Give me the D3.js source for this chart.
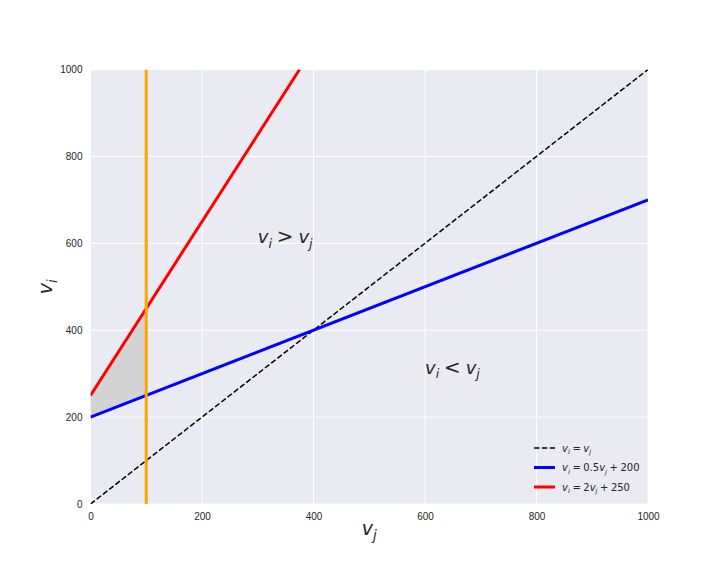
<!DOCTYPE html>
<html><head><meta charset="utf-8">
<script src="https://cdn.jsdelivr.net/npm/d3@7"></script>
<style>body{margin:0;background:#fff;}</style>
</head><body>
<svg id="c" width="720" height="576" font-family="DejaVu Sans, sans-serif"></svg>
<script>
const xTicks = [0,200,400,600,800,1000];
const yTicks = [0,200,400,600,800,1000];
const diagLine = [[0,0],[1000,1000]];
const blueLine = [[0,200],[1000,700]];
const redLine = [[0,250],[375,1000]];
const orangeX = 100;
const shadeTop = [[0,250],[100,450]];
const shadeBottom = [[0,200],[100,250]];

const svg = d3.select("#c");
const L=90.5, R=648, T=69.5, B=504;
const x = d3.scaleLinear().domain([0,1000]).range([L,R]);
const y = d3.scaleLinear().domain([0,1000]).range([B,T]);
svg.append("rect").attr("x",L).attr("y",T).attr("width",R-L).attr("height",B-T).attr("fill","#EAEAF2");
const g = svg.append("g");
g.selectAll(".gx").data(xTicks).join("line").attr("x1",d=>x(d)).attr("x2",d=>x(d)).attr("y1",T).attr("y2",B).attr("stroke","#fff").attr("stroke-width",1);
g.selectAll(".gy").data(yTicks).join("line").attr("y1",d=>y(d)).attr("y2",d=>y(d)).attr("x1",L).attr("x2",R).attr("stroke","#fff").attr("stroke-width",1);

const xa = svg.append("g").attr("transform",`translate(0,${B})`).call(d3.axisBottom(x).tickValues(xTicks).tickSize(0).tickPadding(9).tickFormat(d3.format("d")));
const ya = svg.append("g").attr("transform",`translate(${L},0)`).call(d3.axisLeft(y).tickValues(yTicks).tickSize(0).tickPadding(8).tickFormat(d3.format("d")));
[xa,ya].forEach(a=>{a.select(".domain").remove();a.attr("font-family",null).attr("font-size",null);a.selectAll("text").style("font-size","10px").attr("fill","#262626").style("font-family","'Liberation Sans', Arial, sans-serif");});

const clip = svg.append("clipPath").attr("id","pc").append("rect").attr("x",L).attr("y",T).attr("width",R-L).attr("height",B-T);
const pg = svg.append("g").attr("clip-path","url(#pc)");
const ln = d3.line().x(d=>x(d[0])).y(d=>y(d[1]));
const poly = shadeTop.concat(shadeBottom.slice().reverse());
pg.append("path").attr("d",ln(poly)+"Z").attr("fill","#D3D3D3");
pg.append("path").attr("d",ln(diagLine)).attr("stroke","#000").attr("stroke-width",1.5).attr("stroke-dasharray","5.5,2.4").attr("fill","none");
pg.append("path").attr("d",ln(blueLine)).attr("stroke","#0000FF").attr("stroke-width",3).attr("fill","none");
pg.append("path").attr("d",ln(redLine)).attr("stroke","#FF0000").attr("stroke-width",3).attr("fill","none");
pg.append("line").attr("x1",x(orangeX)).attr("x2",x(orangeX)).attr("y1",T).attr("y2",B).attr("stroke","#FFA500").attr("stroke-width",3);

function mathText(sel, parts, size){
  parts.forEach(p=>{
    const t = sel.append("tspan").text(p[0]);
    if(p[1]) t.attr("font-style","italic");
    if(p[2]) t.attr("font-size",size*0.7).attr("dy",size*0.25);
    else if(p[3]) t.attr("dy",-size*0.25);
    if(p[4]) t.attr("font-size",size*p[4]);
  });
}
const S = "\u2005";
const t1 = svg.append("text").attr("x",x(300)).attr("y",y(600)).attr("font-size",18).attr("fill","#262626");
mathText(t1,[["v",1],["i",1,1],[S+">"+S,0,0,1,1.1],["v",1],["j",1,1]],18);
const t2 = svg.append("text").attr("x",x(600)).attr("y",y(300)).attr("font-size",18).attr("fill","#262626");
mathText(t2,[["v",1],["i",1,1],[S+"<"+S,0,0,1,1.1],["v",1],["j",1,1]],18);

const xl = svg.append("text").attr("x",(L+R)/2).attr("y",535).attr("text-anchor","middle").attr("font-size",19).attr("fill","#262626");
mathText(xl,[["v",1],["j",1,1]],19);
const yl = svg.append("text").attr("transform",`translate(52,${(T+B)/2}) rotate(-90)`).attr("text-anchor","middle").attr("font-size",19).attr("fill","#262626");
mathText(yl,[["v",1],["i",1,1]],19);

const legend = [
  {c:"#000",dash:"5.5,2.4",w:1.5,parts:[["v",1],["i",1,1],[S+"="+S,0,0,1],["v",1],["j",1,1]]},
  {c:"#0000FF",dash:null,w:3,parts:[["v",1],["i",1,1],[S+"="+S+"0.5",0,0,1],["v",1],["j",1,1],[S+"+"+S+"200",0,0,1]]},
  {c:"#FF0000",dash:null,w:3,parts:[["v",1],["i",1,1],[S+"="+S+"2",0,0,1],["v",1],["j",1,1],[S+"+"+S+"250",0,0,1]]}
];
legend.forEach((e,i)=>{
  const yy = 448 + i*19.5;
  const l = svg.append("line").attr("x1",534).attr("x2",555).attr("y1",yy).attr("y2",yy).attr("stroke",e.c).attr("stroke-width",e.w);
  if(e.dash) l.attr("stroke-dasharray",e.dash);
  const t = svg.append("text").attr("x",562).attr("y",yy+3.5).attr("font-size",10).attr("fill","#262626");
  mathText(t,e.parts,10);
});
</script>
</body></html>
